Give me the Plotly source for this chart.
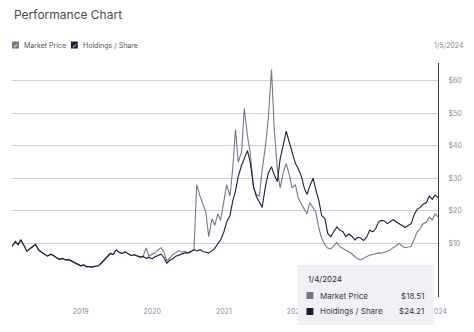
import pandas as pd
import plotly.graph_objects as go

# semi-monthly observation dates (2018-01-15 ... 2024-01-01) plus last day
dates = list(pd.date_range("2018-01-15", "2024-01-01", freq="SMS")) + [pd.Timestamp("2024-01-04")]

holdings = [
    9.0, 10.5, 9.5, 11.0, 9.5, 7.5, 8.2, 9.0, 9.6, 7.8, 7.3, 6.5, 6.0, 6.6, 6.2, 5.4, 5.0, 5.3, 4.8, 4.9, 4.5, 3.9, 3.7,
    3.0, 3.3, 2.7, 2.8, 2.6, 2.9, 3.0, 3.8, 4.8, 6.0, 6.8, 6.5, 7.9, 7.2, 6.8, 7.3, 6.6, 6.2, 6.4, 6.0, 5.7, 5.9, 5.3, 5.6,
    5.2, 5.8, 6.2, 6.6, 5.5, 3.8, 4.8, 5.2, 6.0, 6.3, 6.6, 7.0, 7.0, 7.3, 8.0, 7.6, 8.0, 7.4, 7.2, 7.0, 7.6, 8.4, 9.8, 11.0,
    13.5, 16.5, 18.5, 23.0, 26.0, 30.5, 34.0, 36.0, 38.5, 35.0, 27.5, 24.5, 22.5, 21.0, 27.5, 31.5, 33.5, 31.0, 29.0, 36.0, 40.5, 44.5, 41.0, 38.0,
    34.5, 33.0, 30.5, 27.0, 25.0, 27.5, 30.0, 26.5, 23.0, 18.5, 17.5, 13.0, 12.0, 13.5, 15.0, 14.0, 13.5, 12.0, 12.8, 12.2, 11.0, 11.8, 11.5, 10.8,
    12.0, 14.0, 13.5, 14.5, 16.5, 17.0, 16.8, 16.0, 16.6, 17.2, 16.5, 16.0, 15.2, 14.8, 15.5, 16.0, 19.0, 20.5, 21.0, 22.0, 22.5, 24.5, 23.5, 24.8,
    24.0, 24.21,
]

market = [
    9.0, 10.5, 9.5, 11.0, 9.5, 7.5, 8.2, 9.0, 9.6, 7.8, 7.3, 6.5, 6.0, 6.6, 6.2, 5.4, 5.0, 5.3, 4.8, 4.9, 4.5, 3.9, 3.7,
    3.0, 3.3, 2.7, 2.8, 2.6, 2.9, 3.0, 3.8, 4.8, 6.0, 6.8, 6.5, 7.9, 7.2, 6.8, 7.3, 6.6, 6.2, 6.4, 6.0, 5.7, 5.9, 8.5, 6.0,
    6.5, 7.0, 8.0, 8.6, 7.2, 4.5, 5.5, 6.5, 7.0, 7.7, 7.2, 7.5, 7.0, 7.5, 7.8, 28.0, 24.5, 22.0, 19.5, 12.0, 17.5, 15.5, 19.0, 17.0,
    22.5, 28.0, 24.5, 33.0, 45.0, 35.0, 38.0, 51.5, 43.0, 38.0, 27.0, 25.0, 24.5, 32.5, 40.0, 48.0, 63.5, 45.0, 32.5, 27.0, 32.0, 34.5, 31.0, 27.0,
    28.0, 24.0, 22.0, 20.5, 19.0, 22.5, 21.0, 19.5, 14.5, 11.5, 9.5, 8.5, 8.2, 9.0, 10.2, 8.9, 8.3, 7.8, 7.4, 6.8, 5.8, 5.2, 4.8, 5.2,
    5.8, 6.3, 6.5, 6.8, 7.0, 6.9, 7.2, 7.5, 8.0, 8.6, 9.2, 9.9, 9.0, 8.6, 8.8, 9.0, 11.5, 13.5, 14.5, 16.0, 16.5, 18.0, 17.2, 19.0,
    18.0, 18.51,
]

series_names = ["Market Price", "Holdings / Share"]
year_ticks = ["2019-01-01", "2020-01-01", "2021-01-01", "2022-01-01", "2023-01-01", "2024-01-01"]
year_labels = ["2019", "2020", "2021", "2022", "2023", "2024"]
price_ticks = [10, 20, 30, 40, 50, 60]
price_labels = ["$10", "$20", "$30", "$40", "$50", "$60"]
tooltip_date = "1/4/2024"
cursor_label = "1/5/2024"

GREY = "#78748c"
DARK = "#1d1a3c"

W, H = 474, 332
L, R, T, B = 12, 27, 63, 35
pw, ph = W - L - R, H - T - B


def px(x):
    return (x - L) / pw


def py(y):
    return (H - B - y) / ph


fig = go.Figure()
fig.add_trace(go.Scatter(x=dates, y=market, mode="lines", name=series_names[0],
                         line=dict(color=GREY, width=1.1), showlegend=False))
fig.add_trace(go.Scatter(x=dates, y=holdings, mode="lines", name=series_names[1],
                         line=dict(color=DARK, width=1.1), showlegend=False))

shapes = []
# cursor line
shapes.append(dict(type="line", xref="x", yref="paper", x0=dates[-1], x1=dates[-1], y0=0, y1=1,
                   line=dict(color="#3a3a48", width=2), layer="above"))
# tooltip box
shapes.append(dict(type="rect", xref="paper", yref="paper", x0=px(303), x1=px(442), y0=py(325), y1=py(265),
                   fillcolor="#f1f0f7", line=dict(width=0), layer="above"))
shapes.append(dict(type="rect", xref="paper", yref="paper", x0=px(312), x1=px(319), y0=py(299), y1=py(292),
                   fillcolor=GREY, line=dict(width=0), layer="above"))
shapes.append(dict(type="rect", xref="paper", yref="paper", x0=px(312), x1=px(319), y0=py(315), y1=py(308),
                   fillcolor=DARK, line=dict(width=0), layer="above"))
# legend checkboxes
shapes.append(dict(type="rect", xref="paper", yref="paper", x0=px(12), x1=px(19), y0=py(48.5), y1=py(41.5),
                   fillcolor=GREY, line=dict(width=0), layer="above"))
shapes.append(dict(type="rect", xref="paper", yref="paper", x0=px(72), x1=px(79), y0=py(48.5), y1=py(41.5),
                   fillcolor=DARK, line=dict(width=0), layer="above"))

ann = []
FONT = "Inter"
ann.append(dict(text="Performance Chart", x=px(12), y=py(14), xref="paper", yref="paper", xanchor="left",
                yanchor="middle", showarrow=False, font=dict(family=FONT, size=12, color="#4a4a52")))
for xx in (15.5, 75.5):
    ann.append(dict(text="✓", x=px(xx), y=py(45), xref="paper", yref="paper", xanchor="center", yanchor="middle",
                    showarrow=False, font=dict(family="DejaVu Sans", size=6, color="white")))
ann.append(dict(text=series_names[0], x=px(22), y=py(45), xref="paper", yref="paper", xanchor="left",
                yanchor="middle", showarrow=False, font=dict(family=FONT, size=7, color="#55535f")))
ann.append(dict(text=series_names[1], x=px(82), y=py(45), xref="paper", yref="paper", xanchor="left",
                yanchor="middle", showarrow=False, font=dict(family=FONT, size=7, color="#55535f")))
ann.append(dict(text=cursor_label, x=px(474), y=py(45), xref="paper", yref="paper", xanchor="right",
                yanchor="middle", showarrow=False, font=dict(family=FONT, size=7, color="#8a8a94")))
ann.append(dict(text=tooltip_date, x=px(311), y=py(279), xref="paper", yref="paper", xanchor="left",
                yanchor="middle", showarrow=False, font=dict(family=FONT, size=8, color="#2a2a38")))
ann.append(dict(text=series_names[0], x=px(324), y=py(296), xref="paper", yref="paper", xanchor="left",
                yanchor="middle", showarrow=False, font=dict(family=FONT, size=8, color="#3a3a48")))
ann.append(dict(text=series_names[1], x=px(324), y=py(311), xref="paper", yref="paper", xanchor="left",
                yanchor="middle", showarrow=False, font=dict(family=FONT, size=8, color="#3a3a48")))
ann.append(dict(text=f"${market[-1]:.2f}", x=px(434), y=py(296), xref="paper", yref="paper", xanchor="right",
                yanchor="middle", showarrow=False, font=dict(family=FONT, size=8, color="#3a3a48")))
ann.append(dict(text=f"${holdings[-1]:.2f}", x=px(434), y=py(311), xref="paper", yref="paper", xanchor="right",
                yanchor="middle", showarrow=False, font=dict(family=FONT, size=8, color="#3a3a48")))

fig.update_layout(
    width=W, height=H,
    margin=dict(l=L, r=R, t=T, b=B),
    paper_bgcolor="white", plot_bgcolor="white",
    showlegend=False,
    shapes=shapes, annotations=ann,
    xaxis=dict(range=[dates[0], dates[-1]], tickvals=year_ticks, ticktext=year_labels,
               showgrid=False, zeroline=False, showline=False, ticks="outside", ticklen=8,
               tickcolor="rgba(0,0,0,0)", tickfont=dict(family=FONT, size=7, color="#8a88a4")),
    yaxis=dict(range=[-6.6, 65.5], side="right", tickvals=price_ticks, ticktext=price_labels,
               showgrid=True, gridcolor="#cfcfd4", gridwidth=1, zeroline=False, showline=False,
               ticks="outside", ticklen=7, tickcolor="rgba(0,0,0,0)",
               tickfont=dict(family=FONT, size=7, color="#8a8a94")),
)

fig.write_html("out.html")
